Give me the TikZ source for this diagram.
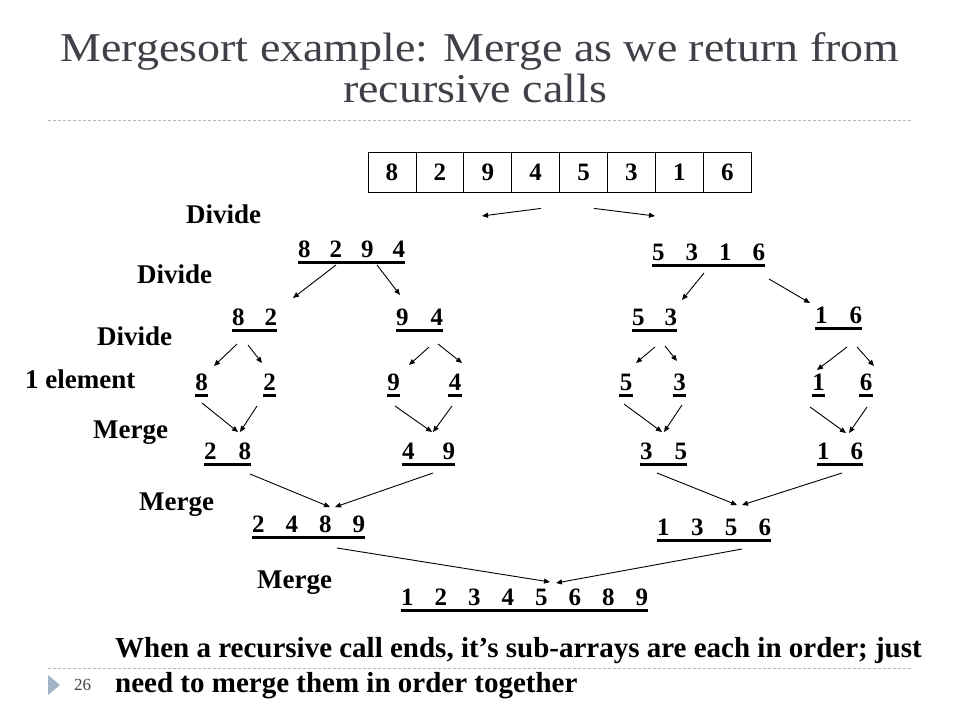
\documentclass[tikz,border=0pt]{standalone}
\usepackage{graphicx}
\usepackage{fontspec}
\setmainfont{Liberation Serif}
\usetikzlibrary{arrows.meta,calc}
\definecolor{titlegray}{RGB}{64,64,72}
\definecolor{rulegray}{RGB}{170,185,200}
\definecolor{bulletblue}{RGB}{160,180,200}
\newcommand\digs[2]{\makebox[#1pt][s]{#2}}
\newcommand\arrw[6]{\draw[arr] ($(#1.base west)+(#2,#3)$) -- ($(#4.base west)+(#5,#6)$);}
\begin{document}
\begin{tikzpicture}[x=1pt,y=-1pt,
  grp/.style={anchor=base west, inner sep=0, font=\fontsize{25}{30}\selectfont\bfseries},
  lab/.style={anchor=base west, inner sep=0, font=\fontsize{27}{32}\selectfont\bfseries},
  cell/.style={draw, line width=0.8pt, minimum width=47.9pt, minimum height=40pt, inner sep=0, font=\fontsize{25}{30}\selectfont\bfseries},
  ul/.style={line width=3pt},
  arr/.style={-{Triangle[length=6pt,width=5pt]}, line width=0.9pt},
  rulestyle/.style={rulegray, dash pattern=on 3pt off 2pt, line width=0.7pt},
  body/.style={anchor=base west, inner sep=0, font=\fontsize{29}{34}\selectfont\bfseries}]
\fill[white] (0,0) rectangle (960,720);
\useasboundingbox (0,0) rectangle (960,720);
% title
\node[anchor=base, inner sep=0, font=\fontsize{41}{48}\selectfont, text=titlegray] (t1) at (480,61) {\scalebox{1.12}[1]{Mergesort example: Merge as we return from}};
\node[anchor=base, inner sep=0, font=\fontsize{41}{48}\selectfont, text=titlegray] (t2) at (475,102) {\scalebox{1.12}[1]{recursive calls}};
\draw[rulestyle] (48,120) -- (912,120);
% array
\foreach \v [count=\i] in {8,2,9,4,5,3,1,6}
  \node[cell] (c\i) at ({368+47.9*(\i-0.5)},172) {\v};
% labels
\node[lab] (d1) at (186,223) {Divide};
\node[lab] (d2) at (137,283) {Divide};
\node[lab] (d3) at (97,345) {Divide};
\node[lab] (e1) at (25,388) {1 element};
\node[lab] (m1) at (93,438) {Merge};
\node[lab] (m2) at (139,510) {Merge};
\node[lab] (m3) at (257,588) {Merge};
% groups
\node[grp] (g1) at (298,257) {\digs{107}{8\hfill 2\hfill 9\hfill 4}};
\node[grp] (g2) at (652,260) {\digs{113}{5\hfill 3\hfill 1\hfill 6}};
\node[grp] (g3) at (232,325) {\digs{45}{8\hfill 2}};
\node[grp] (g4) at (396,325) {\digs{47}{9\hfill 4}};
\node[grp] (g5) at (632,325) {\digs{45}{5\hfill 3}};
\node[grp] (g6) at (815,323) {\digs{47}{1\hfill 6}};
\node[grp] (s8) at (195,390) {\digs{13}{\hfil 8\hfil}};
\node[grp] (s2) at (263,390) {\digs{13}{\hfil 2\hfil}};
\node[grp] (s9) at (387,390) {\digs{13}{\hfil 9\hfil}};
\node[grp] (s4) at (448,390) {\digs{14}{\hfil 4\hfil}};
\node[grp] (s5) at (619,390) {\digs{14}{\hfil 5\hfil}};
\node[grp] (s3) at (673,390) {\digs{13}{\hfil 3\hfil}};
\node[grp] (s1) at (812,390) {\digs{13}{\hfil 1\hfil}};
\node[grp] (s6) at (859,390) {\digs{14}{\hfil 6\hfil}};
\node[grp] (r28) at (204,459) {\digs{47}{2\hfill 8}};
\node[grp] (r49) at (402,459) {\digs{53}{4\hfill 9}};
\node[grp] (r35) at (640,459) {\digs{47}{3\hfill 5}};
\node[grp] (r16) at (817,459) {\digs{46}{1\hfill 6}};
\node[grp] (q1) at (252,532) {\digs{113}{2\hfill 4\hfill 8\hfill 9}};
\node[grp] (q2) at (657,535) {\digs{114}{1\hfill 3\hfill 5\hfill 6}};
\node[grp] (fin) at (401,605) {\digs{247}{1\hfill 2\hfill 3\hfill 4\hfill 5\hfill 6\hfill 8\hfill 9}};
\foreach \n in {g1,g2,g3,g4,g5,g6,s8,s2,s9,s4,s5,s3,s1,s6,r28,r49,r35,r16,q1,q2,fin}
  \draw[ul] ([yshift=-5pt]\n.base west) -- ([yshift=-5pt]\n.base east);
% arrows
\draw[arr] ($(c4.south)+(5.4,16)$) -- ($(g1.base west)+(184,-41)$);
\draw[arr] ($(c5.south)+(10.4,16)$) -- ($(g2.base west)+(3,-44)$);
\arrw{g1}{38}{8}{g3}{61}{-27}
\arrw{g1}{79}{8}{g4}{4}{-30}
\arrw{g2}{52}{13}{g5}{50}{-25}
\arrw{g2}{117}{19}{g6}{-5}{-20}
\arrw{g3}{5}{19}{s8}{19}{-24}
\arrw{g3}{16}{20}{s2}{-1}{-27}
\arrw{g4}{33}{22}{s9}{22}{-25}
\arrw{g4}{42}{19}{s4}{14}{-27}
\arrw{g5}{23}{22}{s5}{17}{-27}
\arrw{g5}{33}{21}{s3}{4}{-29}
\arrw{g6}{32}{24}{s1}{5}{-20}
\arrw{g6}{42}{24}{s6}{15}{-24}
\arrw{s8}{7}{13}{r28}{34}{-27}
\arrw{s2}{-6}{16}{r28}{36}{-27}
\arrw{s9}{8}{16}{r49}{30}{-27}
\arrw{s4}{4}{16}{r49}{31}{-27}
\arrw{s5}{5}{14}{r35}{22}{-27}
\arrw{s3}{9}{15}{r35}{24}{-27}
\arrw{s1}{-2}{17}{r16}{29}{-26}
\arrw{s6}{8}{17}{r16}{32}{-26}
\arrw{r28}{46}{15}{q1}{78}{-25}
\arrw{r49}{31}{14}{q1}{83}{-25}
\arrw{r35}{17}{14}{q2}{80}{-30}
\arrw{r16}{25}{14}{q2}{85}{-30}
\arrw{q1}{85}{16}{fin}{149}{-23}
\arrw{q2}{85}{14}{fin}{155}{-22}
% bottom text
\node[body] (b1) at (115,657) {When a recursive call ends, it’s sub-arrays are each in order; just};
\draw[rulestyle] (48,668) -- (913,668);
\node[body] (b2) at (115,692) {need to merge them in order together};
\fill[bulletblue] (48,675) -- (60,685) -- (48,695) -- cycle;
\node[anchor=base west, inner sep=0, font=\fontsize{17}{20}\selectfont, text=titlegray] (pg) at (74,690) {26};
\end{tikzpicture}
\end{document}
